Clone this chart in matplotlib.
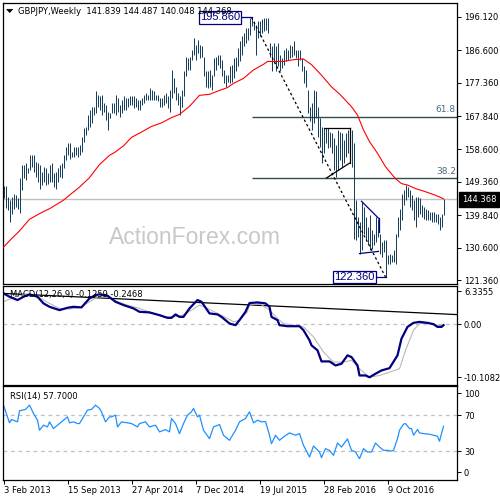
import matplotlib
matplotlib.use('Agg')
import matplotlib.pyplot as plt
from matplotlib.patches import Polygon

plt.rcParams['axes.unicode_minus'] = False

# ---------------- data (weekly GBPJPY, bar index 0 = 3 Feb 2013) ----------------
highs = [
148.1,148.1,145.0,144.1,144.9,146.0,145.5,144.6,150.3,154.0,
154.0,154.5,153.1,156.9,156.9,156.9,155.0,154.5,154.0,152.2,
153.6,153.1,151.7,154.0,154.5,151.7,152.2,153.1,154.0,154.7,
156.9,159.3,160.2,160.2,157.8,159.3,159.3,159.3,159.7,162.1,
164.5,164.9,168.3,169.7,170.6,170.6,174.9,173.9,173.5,173.9,
171.6,171.1,169.2,168.7,171.6,171.6,173.9,173.0,171.1,172.5,
173.5,173.0,173.0,173.5,173.5,173.5,173.0,172.5,172.5,173.0,
173.9,174.4,173.9,175.8,175.4,174.9,173.9,173.9,173.0,173.0,
173.9,174.4,173.5,175.4,181.1,178.7,176.3,174.4,173.5,175.4,
180.6,184.8,184.4,184.8,186.7,190.1,188.2,189.6,188.2,187.7,
184.8,180.6,180.6,181.1,179.6,184.4,184.8,185.3,185.3,183.9,
181.1,179.6,179.6,182.0,182.5,184.4,184.8,187.2,189.1,190.5,
191.5,192.9,192.9,195.7,195.86,194.8,193.8,194.8,194.8,195.3,
195.7,195.7,195.7,188.6,187.7,188.6,187.7,188.6,185.3,184.4,
186.7,187.2,186.7,188.2,187.7,189.1,186.7,186.7,186.7,184.4,
182.0,181.1,175.4,170.6,171.6,175.4,174.9,170.6,167.3,164.9,
164.5,164.5,164.5,163.5,163.1,161.6,159.7,164.0,163.5,163.1,
161.2,163.1,164.0,164.5,164.0,160.2,144.1,139.4,137.9,143.6,
142.2,139.4,136.5,139.8,135.6,134.6,139.4,138.9,134.6,132.3,
132.7,132.7,128.5,128.9,128.5,129.9,134.6,139.4,141.7,146.0,
146.9,148.45,147.9,146.9,145.5,144.1,145.0,145.0,144.6,142.7,
142.2,141.7,141.3,140.8,140.8,140.8,140.3,140.3,139.4,140.3,
144.487]
lows = [
144.8,142.0,141.3,137.9,140.3,141.7,142.2,141.7,140.5,146.9,
150.3,149.8,151.7,152.6,153.6,152.2,150.7,149.3,147.4,148.4,
149.3,148.4,148.8,149.3,149.3,147.9,147.4,149.3,150.7,150.3,
153.1,155.5,156.9,155.9,156.4,156.4,156.9,156.4,156.9,157.8,
160.7,162.6,164.0,164.9,165.9,168.3,168.7,170.6,169.7,168.3,
169.2,166.8,164.0,167.3,168.7,168.7,168.3,169.2,167.8,168.7,
169.7,169.7,170.6,171.1,171.1,170.2,170.6,169.7,169.7,171.1,
171.6,172.5,172.5,172.5,172.5,172.5,172.5,172.1,170.6,170.6,
171.1,171.6,170.2,169.2,173.0,174.4,172.5,171.1,168.3,170.6,
173.5,179.2,181.1,181.1,183.9,185.3,183.9,185.8,184.4,184.8,
179.2,176.3,175.8,176.3,175.4,179.2,181.1,182.5,181.5,179.2,
177.3,176.3,177.7,177.3,177.7,178.7,180.6,182.0,183.4,185.3,
187.7,188.6,189.6,191.0,193.4,192.4,185.3,190.1,190.5,191.5,
192.0,192.4,191.5,184.8,180.6,182.9,180.6,182.0,180.6,181.5,
182.5,183.4,183.9,184.4,184.8,185.3,184.4,182.0,183.9,180.6,
177.3,176.3,168.7,166.4,164.0,165.9,167.3,162.1,159.3,154.5,
157.4,160.2,158.8,159.3,157.4,152.6,150.7,152.6,155.5,153.6,
154.5,156.4,157.4,156.4,153.6,133.2,132.7,133.7,128.9,129.9,
134.6,132.7,131.8,129.9,130.4,131.3,132.3,133.7,128.9,128.0,
129.4,122.36,126.1,126.1,126.6,126.6,126.1,133.7,135.6,138.4,
142.7,144.1,145.0,142.2,141.3,138.4,136.5,139.4,140.3,139.4,
138.9,138.4,138.4,138.4,137.9,137.9,137.9,137.5,135.6,136.5,
140.048]
last_open, last_high, last_low, last_close = 141.839, 144.487, 140.048, 144.368
swing_high, swing_high_bar = 195.86, 124
swing_low, swing_low_bar = 122.36, 191

# moving average (red) read at selected bars
ma_bar = [0, 4, 8, 13, 18, 23, 30, 34, 38, 43, 48, 53, 56, 60, 64, 69, 74, 79, 84, 88,
          93, 98, 103, 108, 112, 115, 120, 125, 130, 132, 140, 145, 150, 154, 159, 164,
          168, 170, 174, 177, 180, 183, 187, 191, 196, 199, 202, 206, 211, 216, 220]
ma_val = [130.8, 133.2, 135.4, 138.7, 140.3, 141.7, 144.1, 146.0, 147.8, 150.5, 154.2,
          156.8, 157.8, 159.5, 161.9, 163.4, 165.0, 166.0, 167.5, 168.4, 170.7, 173.8,
          174.1, 175.2, 176.0, 177.2, 178.6, 181.0, 182.6, 183.4, 183.4, 183.9, 184.1,
          182.5, 179.5, 176.2, 174.2, 173.0, 170.6, 168.2, 164.0, 160.7, 157.4, 153.6,
          150.2, 148.8, 148.4, 147.4, 146.5, 145.5, 144.5]

# MACD(12,26,9)
macd_bar = [0, 3, 7, 10, 13, 17, 20, 23, 28, 32, 35, 39, 43, 46, 48, 52, 56, 60, 65, 68,
            73, 78, 82, 84, 86, 88, 90, 93, 97, 99, 103, 107, 109, 113, 116, 118, 121,
            123, 127, 131, 133, 134, 137, 138, 142, 148, 150, 153, 154, 157, 159, 163,
            166, 169, 172, 174, 177, 178, 181, 183, 186, 189, 193, 197, 199, 202, 205,
            208, 212, 215, 217, 219, 220]
macd_val = [5.97, 5.31, 4.68, 5.31, 5.77, 5.31, 4.04, 3.39, 2.75, 3.20, 3.39, 3.27, 5.0,
            5.64, 5.77, 5.51, 4.35, 3.72, 3.08, 2.43, 2.31, 1.79, 1.27, 1.27, 1.93, 1.46,
            1.46, 3.08, 4.68, 4.35, 2.12, 1.93, 1.46, 0.19, -0.13, 0.83, 2.43, 4.1, 4.23,
            4.04, 3.39, 1.46, 0.83, -0.13, -0.33, -0.33, -1.10, -3.02, -3.99, -4.95,
            -7.07, -7.07, -7.84, -7.51, -5.91, -6.24, -7.84, -9.76, -9.76, -10.1082,
            -9.43, -8.80, -8.36, -5.91, -2.70, -0.46, 0.31, 0.50, 0.31, 0.06, -0.46,
            -0.46, -0.1259]
sig_bar = [0, 8, 12, 17, 23, 28, 33, 38, 43, 47, 52, 57, 62, 68, 75, 80, 85, 89, 94, 98,
           102, 107, 112, 115, 118, 122, 123, 128, 133, 137, 140, 145, 150, 155, 160,
           165, 170, 174, 178, 183, 188, 193, 198, 201, 205, 208, 213, 217, 220]
sig_val = [4.35, 5.64, 5.77, 5.31, 4.04, 3.08, 2.95, 3.2, 4.35, 5.31, 5.31, 4.35, 3.72,
           3.08, 2.12, 1.46, 1.46, 1.66, 2.75, 3.72, 3.08, 2.12, 1.16, 0.5, 0.83, 2.43,
           3.72, 4.04, 2.75, 1.16, 0.19, -0.13, -0.46, -2.39, -5.27, -7.2, -7.2, -6.87,
           -8.47, -10.09, -9.76, -9.13, -8.47, -4.95, -1.10, 0.19, 0.19, -0.13, -0.2468]
macd_trend = [(0, 5.95), (226.6, 1.90)]

# RSI(14)
rsi_bar = [0, 3, 4, 7, 8, 11, 13, 15, 17, 18, 20, 22, 23, 25, 27, 30, 32, 33, 35, 37, 38,
           40, 42, 44, 46, 48, 49, 51, 53, 54, 56, 57, 59, 62, 64, 67, 68, 71, 73, 76, 78,
           81, 83, 84, 86, 88, 90, 92, 94, 95, 97, 98, 100, 103, 105, 108, 110, 113, 116,
           118, 121, 123, 125, 127, 129, 131, 133, 134, 136, 138, 140, 143, 146, 148, 150,
           153, 155, 158, 159, 161, 163, 165, 167, 169, 172, 174, 176, 178, 180, 182, 184,
           186, 188, 190, 192, 194, 195, 197, 198, 200, 201, 203, 204, 205, 207, 208, 210,
           213, 215, 217, 218, 219, 220]
rsi_val = [81.1, 61.5, 65.2, 62.6, 74.8, 76.3, 81.1, 71.9, 64.4, 53.3, 58.9, 57, 62.6, 55.2,
           58.9, 64.4, 68.1, 61.5, 62.6, 60.7, 60.7, 68.1, 75.6, 76.3, 81.1, 77.4, 73.7, 62.6,
           68.1, 68.1, 70, 57, 62.6, 61.5, 60.7, 57, 60.7, 62.6, 57, 58.9, 51.5, 54.1, 51.5,
           66.3, 60.7, 49.6, 60.7, 70, 73.7, 77.4, 68.1, 70, 53.3, 44.1, 57, 59.6, 47.8, 42.2,
           53.3, 62.6, 66.3, 73.7, 61.5, 64.4, 62.6, 63, 47.8, 38.5, 47.8, 42.2, 45.9, 50.4,
           47.8, 49.6, 36.7, 23.7, 35.9, 29.3, 23, 33, 31.1, 25.6, 39.2, 34.8, 43.7, 31.1,
           29.3, 21.9, 33, 29.3, 29.3, 39.2, 34.8, 31.1, 31.1, 30.4, 31, 44.1, 53.3, 60, 60.7,
           55.2, 55.2, 47.8, 54.1, 50.4, 49.6, 48.9, 47.8, 46.7, 41.1, 49.6, 57.7]

date_ticks = [0, 32, 64, 96, 128, 160, 192]
date_labels = ['3 Feb 2013', '15 Sep 2013', '27 Apr 2014', '7 Dec 2014',
               '19 Jul 2015', '28 Feb 2016', '9 Oct 2016']
price_ticks = [196.120, 186.600, 177.360, 167.840, 158.600, 149.360, 139.840, 130.600, 121.360]

# chart annotations (bar, price)
flag_black = [[(160, 164.6), (173, 164.6)], [(173, 164.6), (173, 154.6)],
              [(173, 154.6), (161.5, 150.4)]]
wedge_blue = [[(179, 143.8), (187.5, 139.0)], [(187.5, 139.0), (187.5, 135.0)],
              [(178, 129.0), (187.5, 129.6)]]

# ---------------- styling ----------------
BAR_C = '#17405e'
FS = 6
W = H = 500
fig = plt.figure(figsize=(5, 5), dpi=100)
fig.patch.set_facecolor('white')

def ax_px(l, t, r, b):
    return fig.add_axes([l / W, 1 - b / H, (r - l) / W, (b - t) / H])

ax1 = ax_px(2.5, 2.5, 457, 283.5)
ax2 = ax_px(2.5, 286, 457, 384.5)
ax3 = ax_px(2.5, 386, 457, 479.5)
XL = (-0.5, 226.75)   # 2 px per weekly bar
for ax in (ax1, ax2, ax3):
    ax.set_xlim(*XL)
    for s in ax.spines.values():
        s.set_linewidth(0.9)
        s.set_color('black')
    ax.yaxis.tick_right()
    ax.tick_params(axis='y', which='both', length=3, width=0.7, labelsize=FS, pad=2,
                   left=False, right=True, colors='black')
    ax.tick_params(axis='x', bottom=False, labelbottom=False)

# ---- price panel ----
ax1.set_ylim(120.51, 200.10)
n = len(highs)
xs = list(range(n))
ax1.axhline(last_close, color='#c0c0c0', lw=1.0, zorder=1)
ax1.vlines(xs, lows, highs, colors=BAR_C, lw=0.72, antialiased=True, zorder=3)
ax1.plot(ma_bar, ma_val, color='#ff0000', lw=0.8, zorder=4)

fib618 = swing_low + 0.618 * (swing_high - swing_low)
fib382 = swing_low + 0.382 * (swing_high - swing_low)
for lv, txt in ((fib618, '61.8'), (fib382, '38.2')):
    ax1.hlines(lv, swing_high_bar, XL[1], color='#2f4f4f', lw=1.0, zorder=2)
    ax1.text(XL[1] - 0.6, lv + 0.6, txt, ha='right', va='bottom', fontsize=6.5,
             color='#4a6a80', zorder=5)

ax1.plot([swing_high_bar, swing_low_bar], [swing_high, swing_low], color='black',
         lw=0.9, ls=(0, (2, 2)), zorder=5)
for seg in flag_black:
    ax1.plot([seg[0][0], seg[1][0]], [seg[0][1], seg[1][1]], color='black', lw=0.9, zorder=5)
for seg in wedge_blue:
    ax1.plot([seg[0][0], seg[1][0]], [seg[0][1], seg[1][1]], color='#000080', lw=0.9, zorder=5)

# price labels at swing points
box = dict(boxstyle='square,pad=0.12', fc='white', ec='#000080', lw=0.9)
ax1.plot([118.6, swing_high_bar], [swing_high, swing_high], color='#000080', lw=0.9, zorder=6)
ax1.text(118.3, swing_high, '195.860', ha='right', va='center', fontsize=8,
         family='Liberation Sans', color='#000080', bbox=box, zorder=7)
ax1.plot([185.8, swing_low_bar], [swing_low, swing_low], color='#000080', lw=0.9, zorder=6)
ax1.text(185.5, swing_low, '122.360', ha='right', va='center', fontsize=8,
         family='Liberation Sans', color='#000080', bbox=box, zorder=7)

ax1.set_yticks(price_ticks)
ax1.set_yticklabels(['%.3f' % v for v in price_ticks])
ax1.text(1 + 5.0 / 454.5, last_close, '%.3f' % last_close, transform=ax1.get_yaxis_transform(),
         ha='left', va='center', fontsize=FS, color='white', zorder=10, clip_on=False,
         bbox=dict(boxstyle='square,pad=0.35', fc='black', ec='black'))

# watermark and header
ax1.text(194.5 / W, 1 - 238 / H, 'ActionForex.com', transform=fig.transFigure, ha='center',
         va='center', fontsize=16.5, color='#c8c8c8', family='Liberation Sans', zorder=0)
fig.text(18 / W, 1 - 11 / H, 'GBPJPY,Weekly  %.3f %.3f %.3f %.3f' %
         (last_open, last_high, last_low, last_close), ha='left', va='center', fontsize=6)
fig.patches.append(Polygon([[6.7 / W, 1 - 9.3 / H], [12.7 / W, 1 - 9.3 / H], [9.7 / W, 1 - 12.5 / H]],
                           closed=True, transform=fig.transFigure, fc='black', ec='black', lw=0.5))

# ---- MACD panel ----
ax2.set_ylim(-11.49, 7.37)
ax2.axhline(0, color='#c0c0c0', lw=0.9, ls=(0, (3, 3)))
ax2.plot([p[0] for p in macd_trend], [p[1] for p in macd_trend], color='black', lw=0.9)
ax2.plot(sig_bar, sig_val, color='#b8b8b8', lw=0.8)
ax2.plot(macd_bar, macd_val, color='#000080', lw=1.6)
ax2.set_yticks([6.3355, 0.0, -10.1082])
ax2.set_yticklabels(['6.3355', '0.00', '-10.1082'])
ax2.text(7 / 454.5, 1 - (294 - 286) / 98.5, 'MACD(12,26,9) %.4f %.4f' % (macd_val[-1], sig_val[-1]),
         transform=ax2.transAxes, ha='left', va='center', fontsize=6)

# ---- RSI panel ----
ax3.set_ylim(-1.1, 102.2)
for lv in (70, 30):
    ax3.axhline(lv, color='#c0c0c0', lw=0.9, ls=(0, (3, 3)))
ax3.plot(rsi_bar, rsi_val, color='#1e90ff', lw=0.9)
ax3.set_yticks([94.4, 70, 30, 6.7])
ax3.set_yticklabels(['100', '70', '30', '0'])
ax3.text(7 / 454.5, 1 - (396 - 386) / 93.5, 'RSI(14) %.4f' % rsi_val[-1],
         transform=ax3.transAxes, ha='left', va='center', fontsize=6)
ax3.set_xticks(date_ticks)
ax3.set_xticklabels(date_labels)
ax3.tick_params(axis='x', bottom=True, labelbottom=True, length=3, width=0.7,
                labelsize=FS, pad=1.5)
for lbl in ax3.get_xticklabels():
    lbl.set_ha('left')

fig.savefig('out.png', dpi=100, facecolor='white')
